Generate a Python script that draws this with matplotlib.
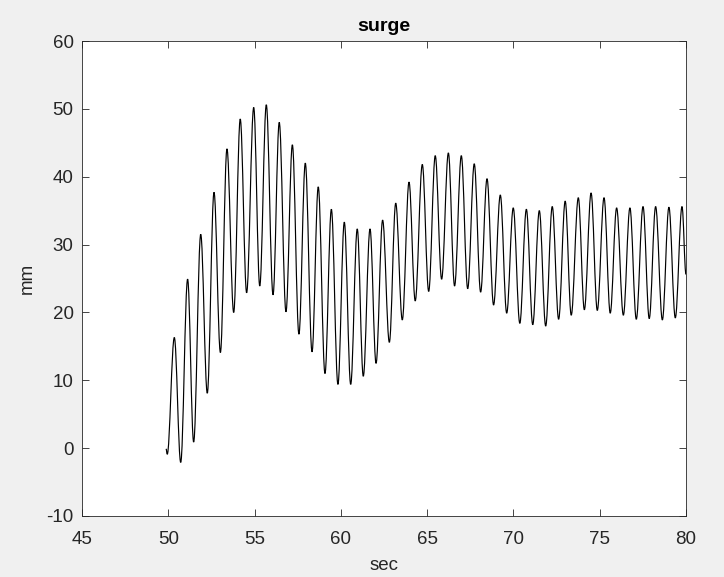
import numpy as np
import matplotlib.pyplot as plt
from matplotlib.path import Path
from matplotlib.patches import PathPatch

# Extremwerte der Schwingung (Zeit in s, Weg in mm)
t_ext = [49.87, 49.94, 50.35, 50.72, 51.12, 51.47, 51.88, 52.26, 52.65, 53.02,
         53.40, 53.79, 54.17, 54.54, 54.95, 55.30, 55.68, 56.07, 56.43, 56.82,
         57.19, 57.57, 57.94, 58.33, 58.69, 59.08, 59.45, 59.83, 60.20, 60.57,
         60.95, 61.30, 61.69, 62.04, 62.42, 62.81, 63.18, 63.56, 63.95, 64.31,
         64.72, 65.09, 65.47, 65.84, 66.23, 66.59, 66.98, 67.35, 67.73, 68.10,
         68.47, 68.85, 69.24, 69.61, 69.99, 70.37, 70.75, 71.12, 71.50, 71.87,
         72.25, 72.62, 73.00, 73.35, 73.76, 74.11, 74.50, 74.86, 75.25, 75.61,
         75.98, 76.37, 76.75, 77.12, 77.51, 77.87, 78.24, 78.63, 79.01, 79.38,
         79.77, 80.00]
surge_ext = [-0.1, -0.9, 16.3, -2.1, 24.9, 0.9, 31.5, 8.1, 37.7, 14.1,
             44.1, 20.0, 48.5, 22.9, 50.2, 23.9, 50.6, 22.6, 48.0, 20.1,
             44.7, 16.8, 42.0, 14.2, 38.5, 11.0, 35.2, 9.4, 33.3, 9.4,
             32.3, 10.6, 32.3, 12.5, 33.6, 15.6, 36.1, 18.9, 39.2, 21.7,
             41.8, 23.1, 43.1, 24.9, 43.5, 23.9, 43.1, 23.5, 41.9, 23.0,
             39.7, 21.1, 37.3, 19.9, 35.4, 18.4, 35.2, 18.2, 35.0, 18.0,
             35.6, 19.0, 36.4, 19.6, 36.9, 20.4, 37.6, 20.3, 36.9, 19.9,
             35.4, 19.6, 35.4, 19.0, 35.6, 19.1, 35.6, 18.9, 35.5, 19.2,
             35.6, 25.6]

x_ticks = [45, 50, 55, 60, 65, 70, 75, 80]
y_ticks = [-10, 0, 10, 20, 30, 40, 50, 60]

ink = '#262626'
plt.rcParams['font.family'] = ['Liberation Sans', 'DejaVu Sans']
plt.rcParams['axes.unicode_minus'] = False

fig = plt.figure(figsize=(7.24, 5.77), dpi=100, facecolor='#f0f0f0')
ax = fig.add_axes([82 / 724, 61 / 577, 604 / 724, 475 / 577])

# glatte Kurve: kubische Bezier-Segmente mit waagrechter Tangente an den Extrema
a = 1 - 2 / np.pi
verts = [(t_ext[0], surge_ext[0])]
codes = [Path.MOVETO]
for i in range(len(t_ext) - 1):
    t0, t1 = t_ext[i], t_ext[i + 1]
    v0, v1 = surge_ext[i], surge_ext[i + 1]
    dt = t1 - t0
    verts += [(t0 + a * dt, v0), (t1 - a * dt, v1), (t1, v1)]
    codes += [Path.CURVE4] * 3
ax.add_patch(PathPatch(Path(verts, codes), fill=False, edgecolor='black', linewidth=0.85))

ax.set_xlim(45, 80)
ax.set_ylim(-10, 60)
ax.set_xticks(x_ticks)
ax.set_yticks(y_ticks)
ax.tick_params(direction='in', top=True, right=True, length=5, width=0.6,
               colors=ink, labelsize=13.5)
ax.tick_params(axis='x', pad=10.5)
ax.tick_params(axis='y', pad=6)
for s in ax.spines.values():
    s.set_color(ink)
    s.set_linewidth(0.6)

ax.set_title('surge', fontsize=14, fontweight='bold', color='black', pad=7)
ax.set_xlabel('sec', fontsize=13.5, color=ink, labelpad=7)
ax.set_ylabel('mm', fontsize=13.5, color=ink, labelpad=8)

fig.savefig('out.png', dpi=100, facecolor=fig.get_facecolor())
